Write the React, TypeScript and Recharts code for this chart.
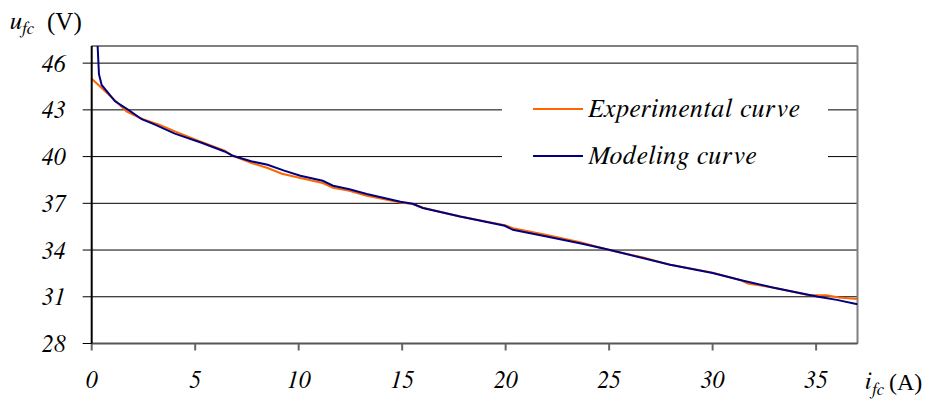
import {
  LineChart, Line, XAxis, YAxis, CartesianGrid, Legend, ReferenceLine,
} from 'recharts'

// current (A) / voltage (V)
const expCurrent = [0, 1.13, 1.68, 2.47, 3.26, 4.05, 5.24, 6.42, 6.82, 7.7, 8.5, 9.19, 10.08, 11.16, 11.66, 12.45, 13.24, 14.92, 15.51, 16.0, 17.8, 19.96, 20.35, 21.93, 23.6, 25.0, 26.7, 27.95, 30.0, 31.33, 31.7, 32.9, 34.6, 35.5, 36.1, 37.0]
const expVoltage = [45.0, 43.6, 42.9, 42.4, 42.05, 41.6, 40.98, 40.38, 40.05, 39.6, 39.27, 38.9, 38.62, 38.3, 38.0, 37.8, 37.5, 37.05, 36.95, 36.72, 36.15, 35.6, 35.4, 34.98, 34.5, 34.0, 33.5, 33.05, 32.55, 32.08, 31.85, 31.6, 31.12, 31.1, 30.95, 30.85]

const modCurrent = [0.27, 0.29, 0.35, 0.48, 1.13, 1.77, 2.42, 3.06, 4.02, 5.34, 6.42, 6.82, 7.7, 8.5, 9.3, 10.08, 11.16, 11.66, 12.45, 13.29, 14.92, 15.51, 16.0, 17.8, 19.96, 20.35, 21.98, 23.7, 25.05, 27.95, 30.0, 31.33, 32.9, 35.1, 36.0, 37.0]
const modVoltage = [48.5, 47.0, 45.3, 44.6, 43.55, 43.0, 42.4, 42.05, 41.47, 40.87, 40.33, 40.05, 39.7, 39.48, 39.1, 38.77, 38.45, 38.13, 37.9, 37.6, 37.1, 36.97, 36.7, 36.15, 35.56, 35.3, 34.87, 34.4, 34.0, 33.05, 32.52, 32.08, 31.6, 31.0, 30.8, 30.52]

const currentTicks = [0, 5, 10, 15, 20, 25, 30, 35]
const voltageTicks = [28, 31, 34, 37, 40, 43, 46]

const seriesNames = ['Experimental curve', 'Modeling curve']
const seriesColors = ['#FF6600', '#000080']

const expData = expCurrent.map((x, i) => ({ x, y: expVoltage[i] }))
const modData = modCurrent.map((x, i) => ({ x, y: modVoltage[i] }))

const W = 922
const H = 393
// Liberation Serif has no italic face here, FreeSerif does
const SERIF = 'Liberation Serif, FreeSerif, serif'
const SERIF_IT = 'FreeSerif, Liberation Serif, serif'

const tickStyle = { fontFamily: SERIF_IT, fontStyle: 'italic', fontSize: 24, fill: '#000' }

const renderLegend = () => (
  <div style={{ width: 326, height: 94, background: '#fff', fontFamily: SERIF_IT }}>
    {seriesNames.map((name, i) => (
      <div key={name} style={{ height: 47, display: 'flex', alignItems: 'center' }}>
        <span style={{ display: 'inline-block', width: 50, height: 2, marginLeft: 31, background: seriesColors[i] }} />
        <span style={{ marginLeft: 5, fontSize: 26, letterSpacing: 1, fontStyle: 'italic', color: '#000' }}>{name}</span>
      </div>
    ))}
  </div>
)

export default function App() {
  return (
    <div style={{ position: 'relative', width: W, height: H }}>
      <LineChart width={W} height={H} margin={{ top: 38, right: 72.5, bottom: 17.5, left: 33.7 }}>
        <CartesianGrid vertical={false} stroke="#000" strokeWidth={1} />
        <XAxis
          type="number"
          dataKey="x"
          domain={[0, 37]}
          ticks={currentTicks}
          allowDataOverflow
          height={40}
          tickSize={7}
          tickMargin={20}
          tick={tickStyle}
          tickLine={{ stroke: '#666', strokeWidth: 2 }}
          axisLine={{ stroke: '#555', strokeWidth: 2 }}
        />
        <YAxis
          type="number"
          domain={[28, 47.1]}
          ticks={voltageTicks}
          allowDataOverflow
          width={50}
          tickSize={9}
          tickMargin={17}
          tick={tickStyle}
          tickLine={{ stroke: '#000' }}
          axisLine={{ stroke: '#000', strokeWidth: 2 }}
        />
        <ReferenceLine y={47.1} stroke="#808080" strokeWidth={2} />
        <ReferenceLine x={37} stroke="#808080" strokeWidth={2} />
        <Line data={expData} dataKey="y" name={seriesNames[0]} type="linear" stroke={seriesColors[0]}
          strokeWidth={2} dot={false} isAnimationActive={false} />
        <Line data={modData} dataKey="y" name={seriesNames[1]} type="linear" stroke={seriesColors[1]}
          strokeWidth={2} dot={false} isAnimationActive={false} />
        <Legend
          content={renderLegend}
          layout="vertical"
          align="center"
          verticalAlign="middle"
          wrapperStyle={{ left: 494, top: 77.5, width: 326, height: 94 }}
        />
      </LineChart>
      <svg width={W} height={H} style={{ position: 'absolute', left: 0, top: 0, overflow: 'visible', pointerEvents: 'none' }}>
        <g fill="#000">
          <text x={2} y={21} fontSize={25} fontFamily={SERIF_IT} fontStyle="italic">u</text>
          <text x={13} y={26} fontSize={17} fontFamily={SERIF_IT} fontStyle="italic">fc</text>
          <text x={39} y={22} fontSize={25} fontFamily={SERIF}>(V)</text>
          <text x={857} y={381} fontSize={25} fontFamily={SERIF_IT} fontStyle="italic">i</text>
          <text x={863} y={387} fontSize={17} fontFamily={SERIF_IT} fontStyle="italic">fc</text>
          <text x={881} y={382} fontSize={24} fontFamily={SERIF}>(A)</text>
        </g>
      </svg>
    </div>
  )
}
